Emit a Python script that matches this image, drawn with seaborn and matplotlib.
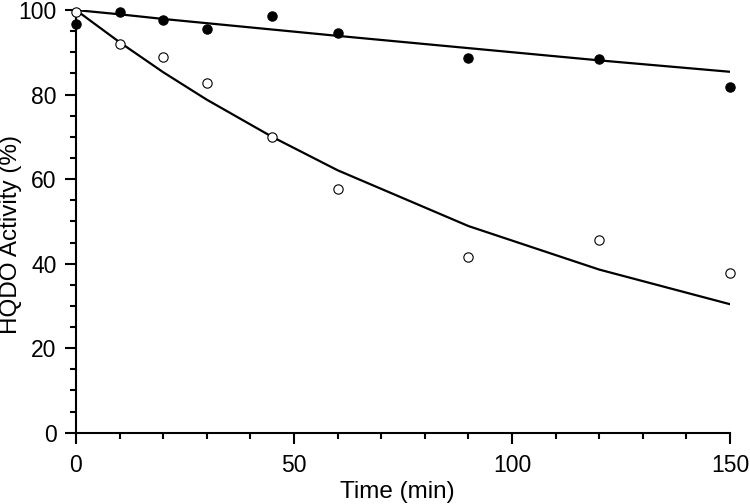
import matplotlib
matplotlib.use("Agg")
import matplotlib.pyplot as plt
import seaborn as sns
import pandas as pd
from matplotlib.ticker import MultipleLocator

# data
time = [0, 10, 20, 30, 45, 60, 90, 120, 150]
filled = [96.6, 99.5, 97.6, 95.5, 98.6, 94.6, 88.7, 88.5, 81.7]
open_pts = [99.5, 91.9, 88.8, 82.8, 70.0, 57.7, 41.5, 45.7, 37.9]
fit_filled = [100, 99.0, 97.9, 96.9, 95.4, 93.9, 91.0, 88.1, 85.4]
fit_open = [100, 92.4, 85.3, 78.8, 70.0, 62.1, 48.9, 38.6, 30.4]

df = pd.DataFrame({"Time": time, "filled": filled, "open": open_pts,
                   "fit_filled": fit_filled, "fit_open": fit_open})

sns.set_style("ticks")
plt.rcParams["font.family"] = ["Liberation Sans", "DejaVu Sans"]
plt.rcParams["text.color"] = "black"
plt.rcParams["axes.labelcolor"] = "black"

fig = plt.figure(figsize=(7.5, 5.04), dpi=100)
ax = fig.add_axes([0.1013, 0.1415, 0.872, 0.8385])

sns.lineplot(data=df, x="Time", y="fit_filled", ax=ax, color="black", lw=1.6)
sns.lineplot(data=df, x="Time", y="fit_open", ax=ax, color="black", lw=1.6)
sns.scatterplot(data=df, x="Time", y="filled", ax=ax, color="black", s=45,
                edgecolor="black", linewidth=0.8, clip_on=False, zorder=3)
sns.scatterplot(data=df, x="Time", y="open", ax=ax, facecolor="white", s=45,
                edgecolor="black", linewidth=0.8, clip_on=False, zorder=3)

ax.set_xlim(0, 150)
ax.set_ylim(0, 100)
ax.xaxis.set_major_locator(MultipleLocator(50))
ax.xaxis.set_minor_locator(MultipleLocator(10))
ax.yaxis.set_major_locator(MultipleLocator(20))
ax.yaxis.set_minor_locator(MultipleLocator(5))

sns.despine(ax=ax)
for s in ["left", "bottom"]:
    ax.spines[s].set_linewidth(1.5)
    ax.spines[s].set_color("black")
ax.tick_params(which="major", length=8, width=1.5, labelsize=16.5, pad=6,
               colors="black")
ax.tick_params(axis="x", which="major", pad=7.5)
ax.tick_params(which="minor", length=4.5, width=1.5, colors="black")

ax.set_xlabel("Time (min)", fontsize=17.5, labelpad=3, x=0.492)
ax.set_ylabel("HQDO Activity (%)", fontsize=17.5, labelpad=-3, y=0.47)

fig.savefig("out.png", dpi=100)
